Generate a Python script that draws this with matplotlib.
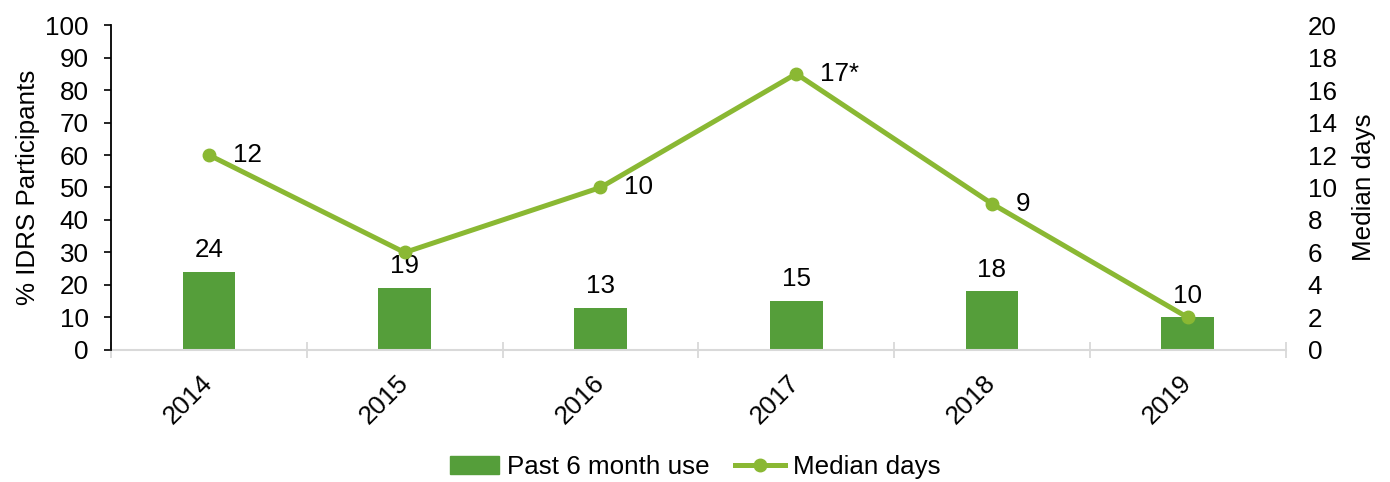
import matplotlib.pyplot as plt
from matplotlib.patches import Patch
from matplotlib.lines import Line2D

plt.rcParams['font.family'] = ['Liberation Sans', 'DejaVu Sans']

# data
years = ['2014', '2015', '2016', '2017', '2018', '2019']
past_6m_use = [24, 19, 13, 15, 18, 10]
median_days = [12, 6, 10, 17, 9, 2]
median_labels = ['12', None, '10', '17*', '9', None]

bar_color = '#559E3A'
line_color = '#8AB833'
fs = 18.7

fig = plt.figure(figsize=(13.9, 4.82), dpi=100)
ax = fig.add_axes([0.0799, 0.274, 0.845, 0.674])
x = list(range(len(years)))

ax.bar(x, past_6m_use, width=0.27, color=bar_color, zorder=2)
for xi, v in zip(x, past_6m_use):
    ax.annotate(str(v), (xi, v), xytext=(0, 7), textcoords='offset points',
                ha='center', va='bottom', fontsize=fs)

ax.set_xlim(-0.5, len(years) - 0.5)
ax.set_ylim(0, 100)
ax.set_yticks(range(0, 101, 10))
ax.set_ylabel('% IDRS Participants', fontsize=fs, labelpad=4)
ax.tick_params(axis='y', labelsize=fs, length=5, width=1.2, color='black', pad=11)

# x axis: grey line with ticks between categories
ax.set_xticks(x)
ax.set_xticklabels(years, rotation=45, ha='right', va='center',
                   rotation_mode='anchor', fontsize=fs)
ax.tick_params(axis='x', length=0, pad=21)
ax.set_xticks([i - 0.5 for i in range(len(years) + 1)], minor=True)
ax.tick_params(axis='x', which='minor', direction='inout', length=11,
               width=1.3, color='#D9D9D9')
for s in ['top', 'right']:
    ax.spines[s].set_visible(False)
ax.spines['bottom'].set_color('#D9D9D9')
ax.spines['bottom'].set_linewidth(1.5)
ax.spines['left'].set_linewidth(1.3)
ax.spines['left'].set_zorder(4)

ax2 = ax.twinx()
ax2.plot(x, median_days, color=line_color, lw=3.6, marker='o', ms=9, zorder=3)
for xi, v, lab in zip(x, median_days, median_labels):
    if lab:
        ax2.annotate(lab, (xi, v), xytext=(17, 0), textcoords='offset points',
                     ha='left', va='center', fontsize=fs)
ax2.set_ylim(0, 20)
ax2.set_yticks(range(0, 21, 2))
ax2.tick_params(axis='y', labelsize=fs, length=0, pad=16)
ax2.set_ylabel('Median days', fontsize=fs, labelpad=11)
for s in ax2.spines.values():
    s.set_visible(False)

handles = [Patch(color=bar_color),
           Line2D([], [], color=line_color, lw=3.6, marker='o', ms=9)]
fig.legend(handles, ['Past 6 month use', 'Median days'], loc='center',
           bbox_to_anchor=(0.5, 0.031), ncol=2, frameon=False, fontsize=fs,
           handlelength=1.9, handletextpad=0.3, columnspacing=1.0)

fig.savefig('out.png', dpi=100)
